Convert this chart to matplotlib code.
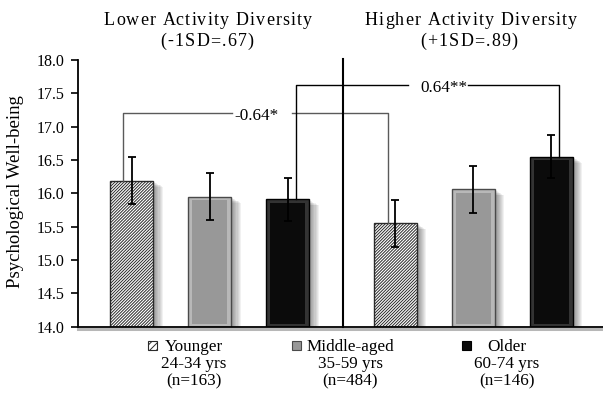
import matplotlib
matplotlib.use("Agg")
import matplotlib.pyplot as plt
from matplotlib.patches import Rectangle
import numpy as np

plt.rcParams['font.family'] = ['Liberation Serif', 'DejaVu Serif']
plt.rcParams['hatch.linewidth'] = 0.7

# --- datos: medias y errores por grupo de edad
grupos = ['Younger', 'Middle-aged', 'Older']
rangos = ['24-34 yrs', '35-59 yrs', '60-74 yrs']
tamanos = ['(n=163)', '(n=484)', '(n=146)']
bajo_div = [16.19, 15.95, 15.91]     # -1SD
alto_div = [15.55, 16.06, 16.55]     # +1SD
err_bajo = [0.35, 0.35, 0.32]
err_alto = [0.35, 0.35, 0.32]
paneles = [('Lower Activity Diversity', '(-1SD=.67)'),
           ('Higher Activity Diversity', '(+1SD=.89)')]
difs = ['-0.64*', '0.64**']
yticks = [14.0, 14.5, 15.0, 15.5, 16.0, 16.5, 17.0, 17.5, 18.0]

# --- estilos por grupo
estilos = [
    dict(face='white', edge='#2a2a2a', hatch='/' * 11, bevel=None),
    dict(face='#989898', edge='#4a4a4a', hatch=None, bevel='#b8b8b8'),
    dict(face='#0b0b0b', edge='#000000', hatch=None, bevel='#333333'),
]

W, H = 603, 393
fig = plt.figure(figsize=(W / 100, H / 100), dpi=100)
ax = fig.add_axes([78 / W, 1 - 326.7 / H, (W - 78) / W, (326.7 - 60) / H])

pos = np.array([0, 1, 2, 3.38, 4.38, 5.38])
vals = np.array(bajo_div + alto_div)
errs = np.array(err_bajo + err_alto)
ancho = 0.55
ax.set_xlim(-0.686, 6.045)
ax.set_ylim(14, 18)

# sombra suave a la derecha de cada barra
for k in range(1, 10):
    ax.bar(pos + k * 0.014, vals - 14 - k * 0.01, ancho, bottom=14,
           color='black', alpha=0.055, linewidth=0, zorder=1)

for i, (x, v) in enumerate(zip(pos, vals)):
    e = estilos[i % 3]
    if e['bevel'] is None:
        ax.bar(x, v - 14, ancho, bottom=14, color=e['face'], edgecolor=e['edge'],
               hatch=e['hatch'], linewidth=1.0, zorder=2)
    else:
        ax.bar(x, v - 14, ancho, bottom=14, color=e['bevel'], edgecolor=e['edge'],
               linewidth=1.0, zorder=2)
        ax.bar(x, v - 14 - 0.09, ancho - 0.1, bottom=14.04, color=e['face'],
               linewidth=0, zorder=3)

ax.errorbar(pos, vals, yerr=errs, fmt='none', ecolor='black', elinewidth=1.3,
            capsize=3.2, capthick=1.3, zorder=5)

# corchetes de diferencias entre niveles de diversidad
def corchete(i, j, y, dx_i, dx_j, txt, xt, gap_izq, gap_der, color):
    xa, xb = pos[i] + dx_i, pos[j] + dx_j
    ax.plot([xa, xa, xt - gap_izq], [vals[i], y, y], color=color, lw=1.0, zorder=4)
    ax.plot([xt + gap_der, xb, xb], [y, y, vals[j]], color=color, lw=1.0, zorder=4)
    ax.text(xt, y - 0.05, txt, ha='center', va='center', fontsize=12.3, zorder=6)

corchete(0, 3, 17.21, -0.11, -0.09, difs[0], 1.60, 0.31, 0.46, '#5a5a5a')
corchete(2, 5, 17.63, 0.105, 0.105, difs[1], 4.0, 0.46, 0.31, 'black')

# separador entre paneles
ax.plot([2.71, 2.71], [14, 18.02], color='black', lw=1.5, zorder=7, clip_on=False)

ax.spines['top'].set_visible(False)
ax.spines['right'].set_visible(False)
ax.spines['left'].set_linewidth(1.3)
ax.spines['bottom'].set_linewidth(1.3)
ax.spines['bottom'].set_zorder(8)
ax.plot([-0.686, 6.045], [13.965, 13.965], color='#888888', lw=2.2, alpha=0.6,
        clip_on=False, zorder=0)
ax.set_xticks([])
ax.set_yticks(yticks)
ax.set_yticklabels(['{:.1f}'.format(t) for t in yticks], fontsize=11.5)
ax.tick_params(axis='y', direction='out', length=5, width=1.2, pad=5)

# titulos con espaciado entre letras
rend = fig.canvas.get_renderer()

def ancho_px(s, size):
    t = fig.text(0, 0, s + '|', fontsize=size)
    w = t.get_window_extent(rend).width
    t.remove()
    return w - ancho_barra[size]

ancho_barra = {}

def texto_espaciado(xc, yb, s, size=13, track=1.2):
    if size not in ancho_barra:
        t = fig.text(0, 0, '|', fontsize=size)
        ancho_barra[size] = t.get_window_extent(rend).width
        t.remove()
    offs = [ancho_px(s[:k], size) + k * track for k in range(len(s))]
    total = ancho_px(s, size) + (len(s) - 1) * track
    x0 = xc - total / 2
    for ch, o in zip(s, offs):
        if ch != ' ':
            fig.text((x0 + o) / W, 1 - yb / H, ch, ha='left', va='baseline', fontsize=size)

texto_espaciado(208, 25, paneles[0][0])
texto_espaciado(207, 46, paneles[0][1])
texto_espaciado(471, 25, paneles[1][0])
texto_espaciado(469, 46, paneles[1][1])

fig.text(16 / W, 1 - 191.5 / H, 'Psychological Well-being', rotation=90,
         ha='center', va='center', fontsize=13.5)

# leyenda de grupos debajo del eje
centros = [194, 350, 507]
marcas = [148, 292, 462]
for k in range(3):
    fig.text(centros[k] / W, 1 - 364 / H, grupos[k] + '\n' + rangos[k] + '\n' + tamanos[k],
             ha='center', va='center', multialignment='center', fontsize=12.3, linespacing=1.12)
    e = estilos[k]
    fig.patches.append(Rectangle((marcas[k] / W, 1 - 350 / H), 9 / W, 9 / H,
                                 transform=fig.transFigure, facecolor=e['face'],
                                 edgecolor=e['edge'], hatch='/' * 5 if e['hatch'] else None,
                                 linewidth=0.8))

fig.savefig('out.png', dpi=100)
